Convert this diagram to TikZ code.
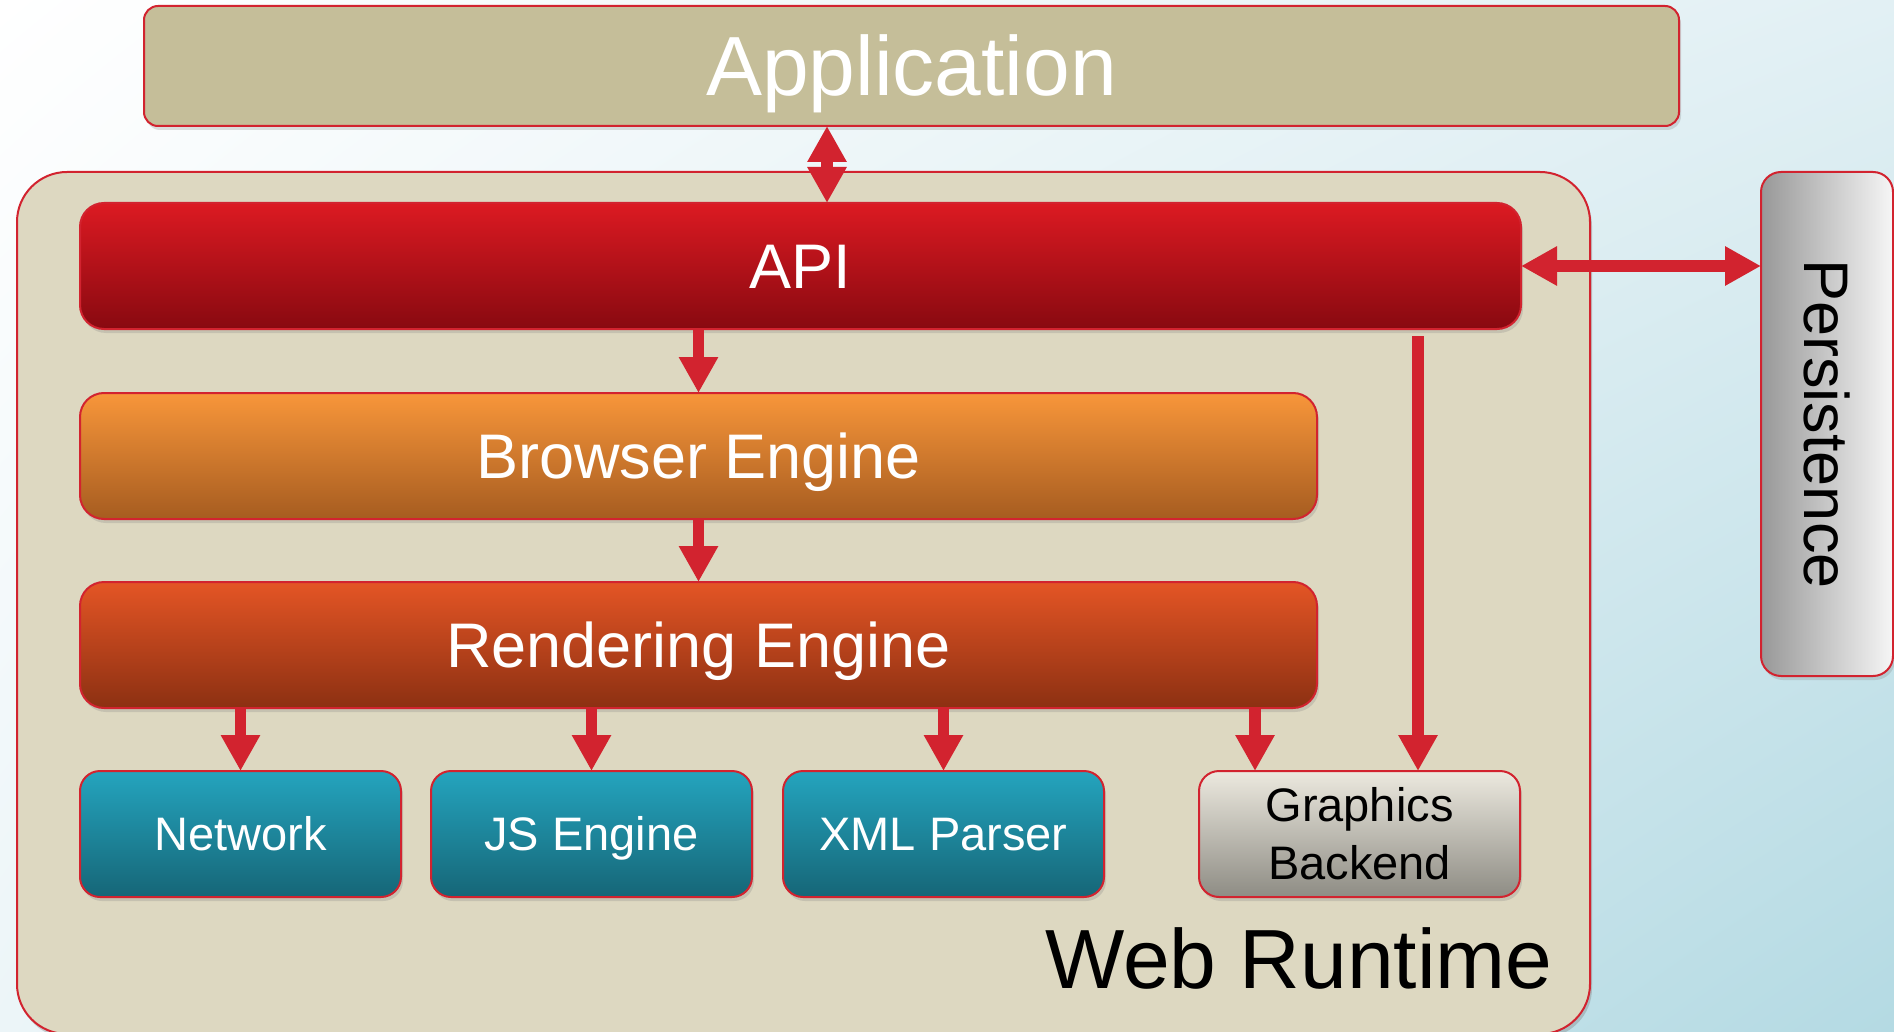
\documentclass[tikz,border=0pt]{standalone}
\usepackage{fontspec}
\setmainfont{Liberation Sans}
\usetikzlibrary{positioning,arrows.meta,shadows,shadings}

\definecolor{linkred}{HTML}{D2232F}
\definecolor{appfill}{HTML}{C5BE99}
\definecolor{runtimefill}{HTML}{DDD8C1}
\definecolor{teal1}{HTML}{24A4BE}
\definecolor{teal2}{HTML}{166677}

\tikzset{
  box/.style={draw=linkred, line width=1pt, rounded corners=10pt, inner sep=0pt, outer sep=0pt, align=center,
    drop shadow={opacity=0.25, shadow xshift=1pt, shadow yshift=-2pt}},
  layer/.style={box, rounded corners=12pt, minimum height=63pt, text=white,
    font=\fontsize{31.5}{36}\selectfont, text height=22.6pt, text depth=0pt},
  module/.style={box, minimum width=160.5pt, minimum height=63pt,
    font=\fontsize{23.5}{29}\selectfont},
  teal/.style={module, top color=teal1, bottom color=teal2, text=white, text height=16.8pt, text depth=0pt},
  link/.style={draw=linkred, line width=5.8pt, -{Triangle[width=18.5pt,length=18pt]}},
  biglink/.style={link, {Triangle[width=18.5pt,length=18pt]}-{Triangle[width=18.5pt,length=18pt]}}
}

\begin{document}
\begin{tikzpicture}[x=0.5pt, y=-0.5pt]
  \useasboundingbox (0,0) rectangle (1894,1032);
  \shade[upper left=white, upper right={rgb,255:red,226;green,240;blue,244},
    lower left={rgb,255:red,236;green,245;blue,248}, lower right={rgb,255:red,180;green,218;blue,227}]
    (0,0) rectangle (1894,1032);

  % outer frame
  \node[box, rounded corners=25pt, fill=runtimefill, minimum width=786.5pt, minimum height=431pt,
    drop shadow={opacity=0.15, shadow xshift=1pt, shadow yshift=-2pt}] (runtime) at (803.5,603) {};
  \node[anchor=base east, inner sep=0pt, font=\fontsize{42}{50}\selectfont] (rtlabel) at (1553,988) {Web Runtime};

  \node[box, rounded corners=7pt, fill=appfill, text=white, minimum width=767.5pt, minimum height=60pt,
    font=\fontsize{42}{50}\selectfont, text height=30pt, text depth=0pt] (app) at (911.5,66) {Application};

  % layers
  \node[layer, minimum width=720.5pt, top color={rgb,255:red,220;green,26;blue,34},
    bottom color={rgb,255:red,136;green,9;blue,16}] (api) at (800.5,266) {API};
  \node[layer, minimum width=618.5pt, top color={rgb,255:red,248;green,150;blue,58},
    bottom color={rgb,255:red,166;green,92;blue,32}, below=32pt of api.south west, anchor=north west] (browser) {Browser Engine};
  \node[layer, minimum width=618.5pt, top color={rgb,255:red,228;green,85;blue,37},
    bottom color={rgb,255:red,140;green,48;blue,18}, below=31.5pt of browser] (render) {Rendering Engine};

  % modules
  \node[teal, below=31.5pt of render.south west, anchor=north west] (net) {Network};
  \node[teal, right=15pt of net] (js) {JS Engine};
  \node[teal, right=15.5pt of js] (xml) {XML Parser};
  \node[module, top color={rgb,255:red,236;green,233;blue,223}, bottom color={rgb,255:red,142;green,140;blue,132},
    right=47.5pt of xml] (gfx) {Graphics\\Backend};

  \node[box, minimum width=66pt, minimum height=252pt, left color={rgb,255:red,152;green,152;blue,152},
    right color={rgb,255:red,246;green,246;blue,246}, font=\fontsize{31.5}{36}\selectfont] (pers) at (1827,424)
    {\rotatebox{-90}{Persistence}};

  % links
  \draw[biglink] ([xshift=13.25pt]api.north) -- ([xshift=13.25pt]api.north |- app.south);
  \draw[biglink] (api.east) -- (api.east -| pers.west);
  \draw[link] (api.south -| browser.north) -- (browser.north);
  \draw[link] (browser) -- (render);
  \foreach \m in {net, js, xml}
    \draw[link] (render.south -| \m.north) -- (\m.north);
  \draw[link] ([xshift=-52.25pt]render.south -| gfx.north) -- ([xshift=-52.25pt]gfx.north);
  \draw[link, shorten <=3.5pt] ([xshift=29.25pt]api.south -| gfx.north) -- ([xshift=29.25pt]gfx.north);
\end{tikzpicture}
\end{document}
